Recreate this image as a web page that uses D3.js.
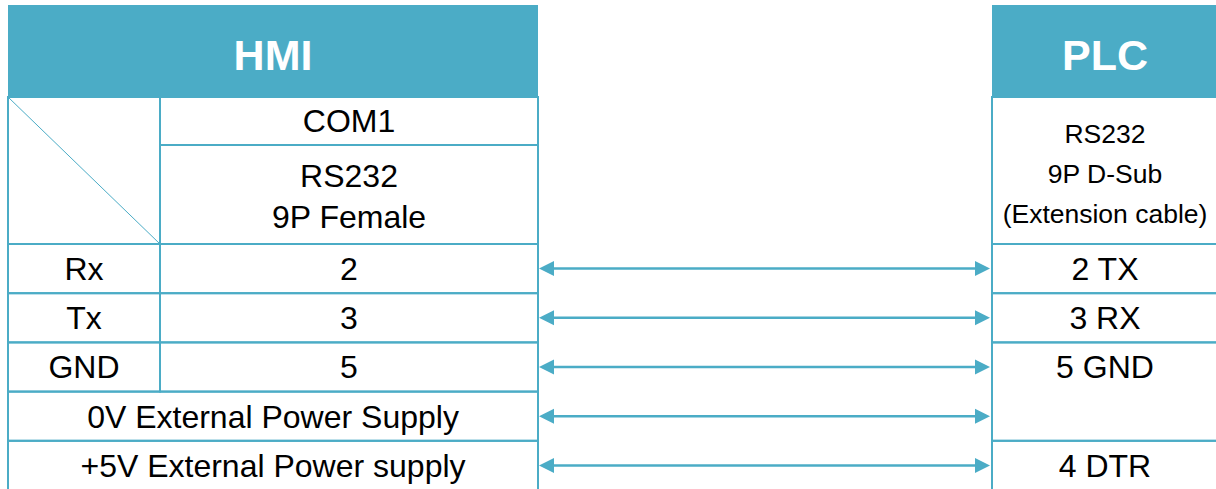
<!DOCTYPE html>
<html>
<head>
<meta charset="utf-8">
<script src="https://cdn.jsdelivr.net/npm/d3@7"></script>
<style>
  body { margin: 0; background: #fff; }
  text { font-family: "Liberation Sans", Arial, sans-serif; }
</style>
</head>
<body>
<div id="chart"></div>
<script>
// table content
const headers = ["HMI", "PLC"];
const hmiPort = "COM1";
const hmiConnector = ["RS232", "9P Female"];
const plcConnector = ["RS232", "9P D-Sub", "(Extension cable)"];
const hmiSignals = ["Rx", "Tx", "GND"];
const hmiPins = ["2", "3", "5"];
const hmiPowerRows = ["0V External Power Supply", "+5V External Power supply"];
const plcPins = ["2 TX", "3 RX", "5 GND", null, "4 DTR"];
const plcSpans = [1, 1, 2, 0, 1]; // 5 GND spans two rows
const rowIds = [0, 1, 2, 3, 4];

const teal = "#4bacc6";
const W = 1216, H = 489;

const svg = d3.select("#chart").append("svg")
  .attr("width", W).attr("height", H);

// column positions
const hmiL = 8, hmiMid = 160, hmiR = 538;
const plcL = 992, plcR = 1218;
const headTop = 5, headBot = 97, portBot = 145, infoBot = 244;

// rows scale
const y = d3.scaleBand().domain(rowIds).range([infoBot, 490]);
const bodyFs = 32, plcFs = 26.5;

// header bars
const hdr = svg.append("g");
hdr.selectAll("rect")
  .data([[hmiL, hmiR], [plcL, plcR]])
  .join("rect")
  .attr("x", d => d[0]).attr("y", headTop)
  .attr("width", d => d[1] - d[0]).attr("height", headBot - headTop)
  .attr("fill", teal);
hdr.selectAll("text")
  .data(headers)
  .join("text")
  .attr("x", (d, i) => i === 0 ? (hmiL + hmiR) / 2 : (plcL + plcR) / 2)
  .attr("y", 70)
  .attr("text-anchor", "middle")
  .attr("font-size", 43)
  .attr("font-weight", "bold")
  .attr("fill", "#fff")
  .text(d => d);

// cells
const cells = [];
cells.push({ x0: hmiL, x1: hmiMid, y0: headBot, y1: infoBot });
cells.push({ x0: hmiMid, x1: hmiR, y0: headBot, y1: portBot });
cells.push({ x0: hmiMid, x1: hmiR, y0: portBot, y1: infoBot });
hmiSignals.forEach((s, i) => {
  cells.push({ x0: hmiL, x1: hmiMid, y0: y(i), y1: y(i) + y.bandwidth() });
  cells.push({ x0: hmiMid, x1: hmiR, y0: y(i), y1: y(i) + y.bandwidth() });
});
hmiPowerRows.forEach((s, j) => {
  const i = hmiSignals.length + j;
  cells.push({ x0: hmiL, x1: hmiR, y0: y(i), y1: y(i) + y.bandwidth() });
});
cells.push({ x0: plcL, x1: plcR, y0: headBot, y1: infoBot });
plcPins.forEach((p, i) => {
  if (plcSpans[i] === 0) return;
  cells.push({ x0: plcL, x1: plcR, y0: y(i), y1: y(i) + y.bandwidth() * plcSpans[i] });
});

svg.append("g").selectAll("rect")
  .data(cells)
  .join("rect")
  .attr("x", d => d.x0).attr("y", d => d.y0)
  .attr("width", d => d.x1 - d.x0).attr("height", d => d.y1 - d.y0)
  .attr("fill", "none")
  .attr("stroke", teal)
  .attr("stroke-width", 2);

// diagonal in the corner cell
svg.append("line")
  .attr("x1", hmiL).attr("y1", headBot)
  .attr("x2", hmiMid).attr("y2", infoBot)
  .attr("stroke", teal).attr("stroke-width", 1);

// texts
const txt = svg.append("g").attr("fill", "#000").attr("text-anchor", "middle");
const capOff = fs => fs * 0.716 / 2;

txt.append("text")
  .attr("x", (hmiMid + hmiR) / 2).attr("y", (headBot + portBot) / 2 + capOff(bodyFs))
  .attr("font-size", bodyFs).text(hmiPort);

txt.selectAll(".conn")
  .data(hmiConnector)
  .join("text")
  .attr("class", "conn")
  .attr("x", (hmiMid + hmiR) / 2)
  .attr("y", (d, i) => 187 + i * 41)
  .attr("font-size", bodyFs).text(d => d);

txt.selectAll(".plcconn")
  .data(plcConnector)
  .join("text")
  .attr("class", "plcconn")
  .attr("x", (plcL + plcR) / 2)
  .attr("y", (d, i) => 143 + i * 40)
  .attr("font-size", plcFs).text(d => d);

const rowMid = i => y(i) + y.bandwidth() / 2;

txt.selectAll(".sig")
  .data(hmiSignals)
  .join("text")
  .attr("class", "sig")
  .attr("x", (hmiL + hmiMid) / 2)
  .attr("y", (d, i) => rowMid(i) + capOff(bodyFs))
  .attr("font-size", bodyFs).text(d => d);

txt.selectAll(".pin")
  .data(hmiPins)
  .join("text")
  .attr("class", "pin")
  .attr("x", (hmiMid + hmiR) / 2)
  .attr("y", (d, i) => rowMid(i) + capOff(bodyFs))
  .attr("font-size", bodyFs).text(d => d);

txt.selectAll(".pwr")
  .data(hmiPowerRows)
  .join("text")
  .attr("class", "pwr")
  .attr("x", (hmiL + hmiR) / 2)
  .attr("y", (d, i) => rowMid(hmiSignals.length + i) + capOff(bodyFs))
  .attr("font-size", bodyFs).text(d => d);

txt.selectAll(".plcpin")
  .data(plcPins.map((p, i) => ({ p, i })).filter(d => d.p))
  .join("text")
  .attr("class", "plcpin")
  .attr("x", (plcL + plcR) / 2)
  .attr("y", d => rowMid(d.i) + capOff(bodyFs))
  .attr("font-size", bodyFs).text(d => d.p);

// arrows between the two tables
const ax0 = hmiR + 1, ax1 = plcL - 2, headLen = 15, headHalf = 7.5;
const arrows = svg.append("g").selectAll("g")
  .data(rowIds)
  .join("g")
  .attr("transform", i => `translate(0,${rowMid(i)})`);
arrows.append("line")
  .attr("x1", ax0 + headLen - 2).attr("x2", ax1 - headLen + 2)
  .attr("y1", 0).attr("y2", 0)
  .attr("stroke", teal).attr("stroke-width", 2.5);
arrows.append("path")
  .attr("d", `M${ax0},0L${ax0 + headLen},${-headHalf}L${ax0 + headLen},${headHalf}Z`)
  .attr("fill", teal);
arrows.append("path")
  .attr("d", `M${ax1},0L${ax1 - headLen},${-headHalf}L${ax1 - headLen},${headHalf}Z`)
  .attr("fill", teal);
</script>
</body>
</html>
